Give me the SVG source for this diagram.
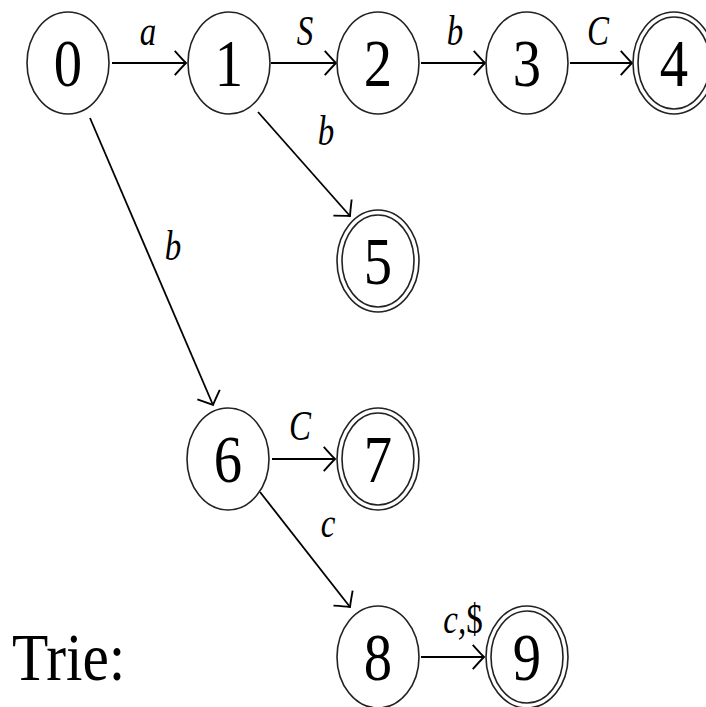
<svg xmlns="http://www.w3.org/2000/svg" width="706" height="707" viewBox="0 0 706 707">
<defs>
<marker id="arr" markerUnits="userSpaceOnUse" markerWidth="30" markerHeight="30" refX="0" refY="0" viewBox="-16 -16 20 32" orient="auto" overflow="visible">
<path d="M -12 -13 Q -4 -4 0 0 Q -4 4 -12 13" fill="none" stroke="#000" stroke-width="2"/>
</marker>
</defs>
<style>
.n ellipse{fill:#fff;stroke:#222;stroke-width:1.6}
.d{font-family:"Liberation Serif","DejaVu Serif",serif;font-size:54px;text-anchor:middle;fill:#000}
.l{font-family:"Liberation Serif","DejaVu Serif",serif;font-style:italic;font-size:33px;text-anchor:middle;fill:#000}
.e line{stroke:#000;stroke-width:1.8;marker-end:url(#arr)}
</style>
<rect width="706" height="707" fill="#fff"/>
<g id="edges" class="e">
<line x1="112" y1="63" x2="186" y2="63"/>
<line x1="271" y1="63" x2="336" y2="63"/>
<line x1="421" y1="63" x2="485" y2="63"/>
<line x1="570" y1="63" x2="632" y2="63"/>
<line x1="258" y1="112" x2="350" y2="216"/>
<line x1="90" y1="118" x2="213" y2="405"/>
<line x1="272" y1="459" x2="335" y2="459"/>
<line x1="260" y1="492" x2="350" y2="607"/>
<line x1="421" y1="657" x2="484" y2="657"/>
</g>
<g id="labels">
<text class="l" transform="translate(148,45) scale(1,1.25)">a</text>
<text class="l" transform="translate(305,45) scale(1,1.25)">S</text>
<text class="l" transform="translate(455,45) scale(1,1.25)">b</text>
<text class="l" transform="translate(598,45) scale(1,1.25)">C</text>
<text class="l" transform="translate(326,145) scale(1,1.25)">b</text>
<text class="l" transform="translate(173,260) scale(1,1.25)">b</text>
<text class="l" transform="translate(300,440) scale(1,1.25)">C</text>
<text class="l" transform="translate(328,537) scale(1,1.25)">c</text>
<text class="l" transform="translate(463,633) scale(1,1.25)">c,<tspan font-style="normal">$</tspan></text>
</g>
<g id="n0" class="n"><ellipse cx="68" cy="63" rx="41" ry="51"/><text class="d" transform="translate(68,86) scale(1.05,1.25)">0</text></g>
<g id="n1" class="n"><ellipse cx="229" cy="63" rx="41" ry="51"/><text class="d" transform="translate(229,86) scale(1.05,1.25)">1</text></g>
<g id="n2" class="n"><ellipse cx="378" cy="63" rx="41" ry="51"/><text class="d" transform="translate(378,86) scale(1.05,1.25)">2</text></g>
<g id="n3" class="n"><ellipse cx="527" cy="63" rx="41" ry="51"/><text class="d" transform="translate(527,86) scale(1.05,1.25)">3</text></g>
<g id="n4" class="n"><ellipse cx="674" cy="63" rx="41" ry="51"/><ellipse cx="674" cy="63" rx="36" ry="46"/><text class="d" transform="translate(674,86) scale(1.05,1.25)">4</text></g>
<g id="n5" class="n"><ellipse cx="378" cy="261" rx="41" ry="51"/><ellipse cx="378" cy="261" rx="36" ry="46"/><text class="d" transform="translate(378,284) scale(1.05,1.25)">5</text></g>
<g id="n6" class="n"><ellipse cx="228" cy="459" rx="41" ry="51"/><text class="d" transform="translate(228,482) scale(1.05,1.25)">6</text></g>
<g id="n7" class="n"><ellipse cx="378" cy="459" rx="41" ry="51"/><ellipse cx="378" cy="459" rx="36" ry="46"/><text class="d" transform="translate(378,482) scale(1.05,1.25)">7</text></g>
<g id="n8" class="n"><ellipse cx="378" cy="657" rx="41" ry="51"/><text class="d" transform="translate(378,680) scale(1.05,1.25)">8</text></g>
<g id="n9" class="n"><ellipse cx="527" cy="657" rx="41" ry="51"/><ellipse cx="527" cy="657" rx="36" ry="46"/><text class="d" transform="translate(527,680) scale(1.05,1.25)">9</text></g>
<text id="title" class="d" style="text-anchor:start" transform="translate(12,680) scale(1.1,1.25)">Trie:</text>
</svg>
